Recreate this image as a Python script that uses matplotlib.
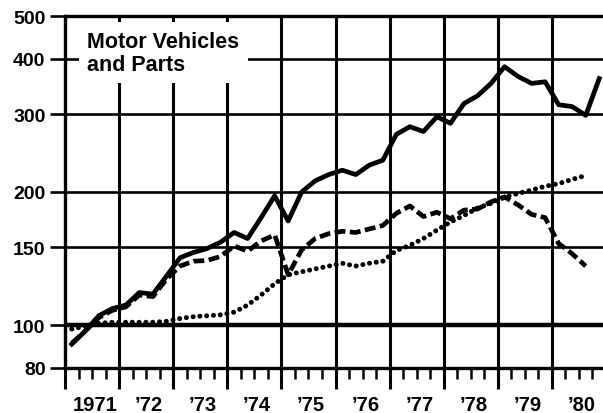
import matplotlib
matplotlib.use("Agg")
import matplotlib.pyplot as plt
import numpy as np

plt.rcParams['font.family'] = ['Liberation Sans', 'DejaVu Sans']
plt.rcParams['font.weight'] = 'bold'

# quarterly index values (1971 Q1 onward)
solid = [90.6, 97, 105, 109, 111, 118.5, 117.5, 129, 142, 146, 149, 154,
         162, 157, 175, 196, 172, 200, 212, 219, 224, 219, 230, 236,
         270, 281, 274, 296, 286, 317, 330, 352, 384, 365, 352, 355,
         315, 312, 298, 361]
dashed = [91, 97, 104, 108, 110, 117, 116, 127, 136, 139.5, 140, 143,
          151, 147, 155, 160, 130, 148, 157, 161, 163, 162, 165, 168,
          179, 186, 176, 180, 174, 182, 183, 190, 195, 187, 178, 175,
          153, 145, 136]
dotted = [98, 99.5, 101, 101.5, 101.5, 101.5, 101.5, 102, 103.5, 104.5, 105, 105.5,
          107, 111, 117, 124, 130, 132, 134, 136, 138, 136, 138, 139.5,
          147.5, 151.5, 157, 164, 171, 177, 184, 188.5, 194.5, 198.5, 202, 206,
          209, 213.5, 218]

years = list(range(1971, 1981))
year_labels = ["1971", "\u201972", "\u201973", "\u201974", "\u201975",
               "\u201976", "\u201977", "\u201978", "\u201979", "\u201980"]
y_ticks = [80, 100, 150, 200, 300, 400, 500]
y_grid = [150, 200, 300, 400]

def quarters(n):
    return 1971 + 0.125 + 0.25 * np.arange(n)

fig = plt.figure(figsize=(6.03, 4.14), dpi=100)
ax = fig.add_axes([65 / 603, 45 / 414, 538 / 603, 352 / 414])

ax.set_yscale('log')
ax.set_ylim(80, 500)
ax.set_xlim(1971, 1971 + 538 / 54.1)

# grid
for v in y_grid:
    ax.axhline(v, color='black', lw=1.9, zorder=1)
ax.axhline(100, color='black', lw=3.2, zorder=1)
for yr in years[1:]:
    ax.axvline(yr, color='black', lw=2.2, zorder=1)

# series
ax.plot(quarters(len(solid)), solid, color='black', lw=3.4,
        solid_joinstyle='round', zorder=3)
ax.plot(quarters(len(dashed)), dashed, color='black', lw=3.4,
        linestyle=(0, (2.3, 0.95)), zorder=3)
ax.plot(quarters(len(dotted)), dotted, color='black', lw=3.6,
        linestyle=(0, (0.01, 1.35)), dash_capstyle='round', zorder=3)

# y axis
ax.set_yticks(y_ticks)
ax.set_yticklabels([str(v) for v in y_ticks], fontsize=14, fontweight='bold')
ax.yaxis.set_minor_locator(matplotlib.ticker.NullLocator())
ax.tick_params(axis='y', length=11, width=1.9, pad=3)

# x axis: long ticks at year starts, short ticks each quarter
ax.set_xticks(years)
ax.set_xticklabels([])
ax.set_xticks([y + q * 0.25 for y in years for q in (1, 2, 3)], minor=True)
ax.tick_params(axis='x', which='major', length=15, width=2.2)
ax.tick_params(axis='x', which='minor', length=8, width=1.8)
for yr, lab in zip(years, year_labels):
    ax.annotate(lab, xy=(yr + 0.55, 0), xycoords=('data', 'axes fraction'),
                xytext=(0, -26), textcoords='offset points',
                ha='center', va='center', fontsize=14.5, fontweight='bold')

for side in ['left', 'bottom', 'top']:
    ax.spines[side].set_linewidth(2.4)
ax.spines['right'].set_visible(False)

ax.text(0.041, 0.958, "Motor Vehicles\nand Parts", transform=ax.transAxes,
        ha='left', va='top', fontsize=15.5, fontweight='bold', linespacing=1.12,
        bbox=dict(facecolor='white', edgecolor='none', pad=6), zorder=2)

fig.savefig("out.png", dpi=100)
